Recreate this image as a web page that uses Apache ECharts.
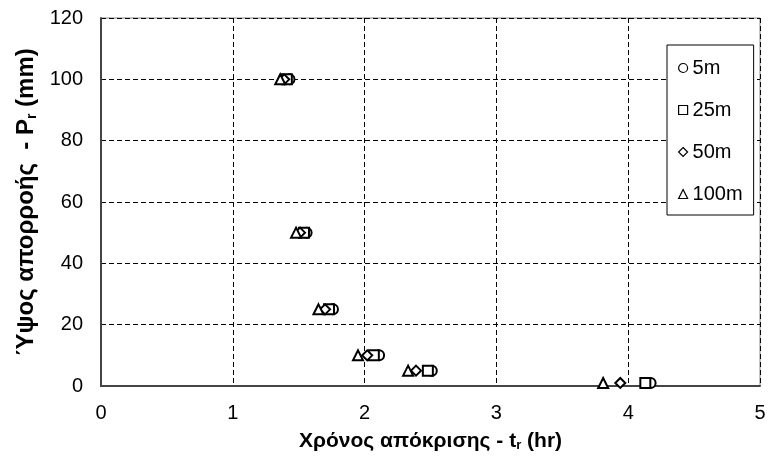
<!DOCTYPE html>
<html><head><meta charset="utf-8">
<script src="https://cdn.jsdelivr.net/npm/echarts@6/dist/echarts.min.js"></script>
<style>html,body{margin:0;padding:0;background:#fff}#c{width:772px;height:457px}</style>
</head><body><div id="c"></div>
<script>
const rainfall = [100, 50, 25, 10, 5, 1];
const t5m   = [1.43, 1.56, 1.76, 2.11, 2.51, 4.17];
const t25m  = [1.41, 1.54, 1.73, 2.07, 2.48, 4.13];
const t50m  = [1.39, 1.51, 1.70, 2.02, 2.39, 3.94];
const t100m = [1.36, 1.48, 1.65, 1.95, 2.33, 3.81];
const seriesNames = ['5m', '25m', '50m', '100m'];
const seriesSymbols = ['circle', 'rect', 'diamond', 'triangle'];
const seriesTimes = [t5m, t25m, t50m, t100m];
const xTicks = [0, 1, 2, 3, 4, 5];
const yTicks = [0, 20, 40, 60, 80, 100, 120];

const font = 'Liberation Sans, Arial, sans-serif';
const chart = echarts.init(document.getElementById('c'));
chart.setOption({
  animation: false,
  grid: { left: 101, right: 12, top: 18, bottom: 70, show: true, borderColor: '#888', borderWidth: 1 },
  xAxis: {
    type: 'value', min: xTicks[0], max: xTicks[xTicks.length - 1], interval: 1,
    axisLine: { lineStyle: { color: '#444', width: 2 } },
    axisTick: { show: false },
    axisLabel: { color: '#000', fontSize: 20, fontFamily: font, margin: 17 },
    splitLine: { lineStyle: { color: '#000', type: [5, 3], width: 1 } },
    name: 'Χρόνος απόκρισης - t{sub|r} (hr)', nameLocation: 'middle', nameGap: 44,
    nameTextStyle: { color: '#000', fontSize: 21, fontWeight: 'bold', fontFamily: font,
      rich: { sub: { fontSize: 13, fontWeight: 'bold', fontFamily: font, verticalAlign: 'bottom', padding: [9, 0, 0, 0] } } }
  },
  yAxis: {
    type: 'value', min: yTicks[0], max: yTicks[yTicks.length - 1], interval: 20,
    axisLine: { show: true, lineStyle: { color: '#444', width: 2 } },
    axisTick: { show: false },
    axisLabel: { color: '#000', fontSize: 20, fontFamily: font, margin: 18 },
    splitLine: { lineStyle: { color: '#000', type: [5, 3], width: 1 } },
    name: 'Ύψος απορροής  - P{sub|r} (mm)', nameLocation: 'middle', nameGap: 59,
    nameTextStyle: { color: '#000', fontSize: 24, fontWeight: 'bold', fontFamily: font,
      rich: { sub: { fontSize: 14, fontWeight: 'bold', fontFamily: font, verticalAlign: 'bottom', padding: [10, 0, 0, 0] } } }
  },
  legend: {
    orient: 'vertical', left: 667, top: 45,
    padding: [13, 11, 11, 11],
    itemGap: 22, itemWidth: 9, itemHeight: 9,
    backgroundColor: '#fff',
    borderColor: '#000', borderWidth: 1,
    itemStyle: { borderWidth: 1.2 },
    textStyle: { color: '#000', fontSize: 20, fontFamily: font },
    data: seriesNames
  },
  series: seriesNames.map((n, i) => ({
    name: n, type: 'scatter', symbol: seriesSymbols[i], symbolSize: 10,
    itemStyle: { color: '#fff', borderColor: '#000', borderWidth: 2, opacity: 1 },
    data: seriesTimes[i].map((t, j) => [t, rainfall[j]])
  }))
});
</script></body></html>
